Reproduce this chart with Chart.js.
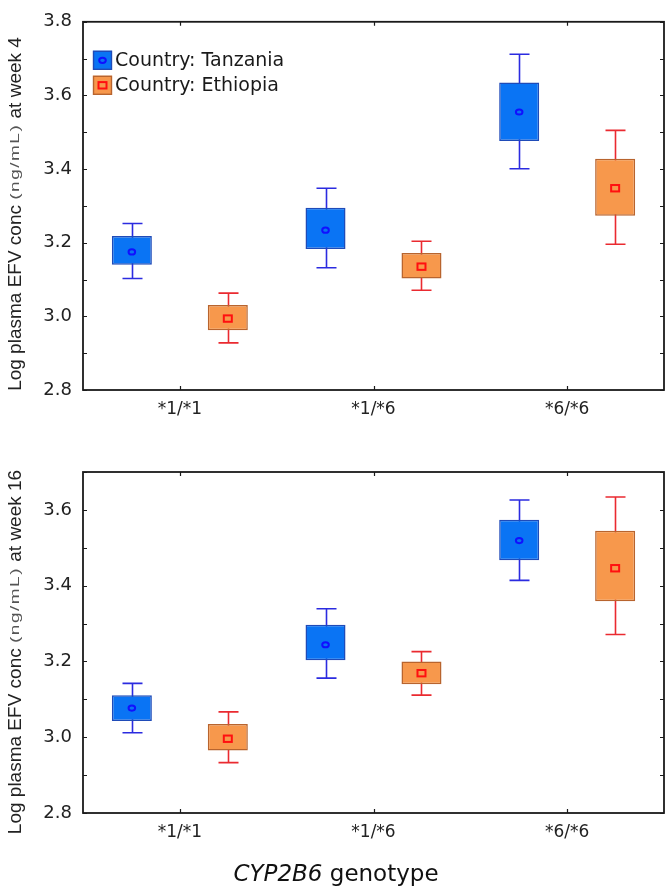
<!DOCTYPE html>
<html><head><meta charset="utf-8">
<script src="https://cdn.jsdelivr.net/npm/chart.js@4.4.1/dist/chart.umd.min.js"></script>
<style>
html,body{margin:0;padding:0;background:#fff;}
#wrap{position:relative;width:672px;height:893px;overflow:hidden;background:#fff;}
.panel{position:absolute;left:0;width:672px;}
.ytitle{position:absolute;white-space:nowrap;font-family:"Liberation Sans",Arial,sans-serif;font-size:19px;color:#222;transform:translate(-50%,-50%) rotate(-90deg);}
.unit{display:inline-block;color:#555;letter-spacing:1.5px;transform:scaleY(0.7);}
.xtitle{position:absolute;left:0;width:672px;text-align:center;top:860px;font-family:"DejaVu Sans",sans-serif;font-size:23px;color:#111;white-space:nowrap;}
</style></head>
<body><div id="wrap">
<div class="panel" style="top:0;height:446px"><canvas id="c1" width="672" height="446"></canvas></div>
<div class="panel" style="top:446px;height:447px"><canvas id="c2" width="672" height="447"></canvas></div>
<div class="ytitle" style="left:15px;top:214px">Log plasma EFV conc <span class="unit">(ng/mL)</span> at week 4</div>
<div class="ytitle" style="left:15px;top:652px">Log plasma EFV conc <span class="unit">(ng/mL)</span> at week 16</div>
<div class="xtitle"><i>CYP2B6</i> genotype</div>
</div>
<script>
// ---- data ----
const categories = ['*1/*1', '*1/*6', '*6/*6'];
const seriesNames = ['Country: Tanzania', 'Country: Ethiopia'];

// Week 4
const w4TzLow  = [3.103, 3.132, 3.401];
const w4TzQ1   = [3.140, 3.183, 3.476];
const w4TzMean = [3.175, 3.234, 3.555];
const w4TzQ3   = [3.218, 3.295, 3.635];
const w4TzHigh = [3.252, 3.348, 3.712];

const w4EtLow  = [2.928, 3.071, 3.196];
const w4EtQ1   = [2.962, 3.103, 3.273];
const w4EtMean = [2.994, 3.135, 3.348];
const w4EtQ3   = [3.031, 3.172, 3.428];
const w4EtHigh = [3.063, 3.204, 3.505];

// Week 16
const w16TzLow  = [3.012, 3.156, 3.414];
const w16TzQ1   = [3.043, 3.203, 3.467];
const w16TzMean = [3.077, 3.244, 3.519];
const w16TzQ3   = [3.111, 3.297, 3.574];
const w16TzHigh = [3.142, 3.339, 3.626];

const w16EtLow  = [2.933, 3.111, 3.271];
const w16EtQ1   = [2.965, 3.140, 3.359];
const w16EtMean = [2.996, 3.169, 3.446];
const w16EtQ3   = [3.035, 3.200, 3.545];
const w16EtHigh = [3.067, 3.226, 3.634];

const w4Axis  = {min: 2.8, max: 3.8};
const w16Axis = {min: 2.8, max: 3.7};

// ---- styles ----
const TZ = {fill:'#0a74f4', border:'#1f4bb8', whisker:'#2b2be0', marker:'#1010ff', shape:'circle'};
const ET = {fill:'#f7984c', border:'#b8642e', whisker:'#ea2a30', marker:'#ff1010', shape:'square'};
const TICK_FONT = {family:'DejaVu Sans', size:17};

function drawMarker(ctx, x, y, st){
  ctx.save();
  ctx.strokeStyle = st.marker; ctx.lineWidth = 2;
  if (st.shape === 'circle'){
    ctx.beginPath(); ctx.ellipse(x, y, 3.3, 2.6, 0, 0, Math.PI*2); ctx.stroke();
  } else {
    ctx.strokeRect(x-4, y-3.2, 8, 6.4);
  }
  ctx.restore();
}

const extras = {
  id:'extras',
  beforeDatasetsDraw(chart){
    const ctx = chart.ctx, ys = chart.scales.y;
    chart.data.datasets.forEach((ds, i) => {
      const meta = chart.getDatasetMeta(i);
      meta.data.forEach((el, j) => {
        const x = Math.round(el.x) + 0.5;
        const yl = ys.getPixelForValue(ds.low[j]);
        const yh = ys.getPixelForValue(ds.high[j]);
        ctx.save();
        ctx.strokeStyle = ds.st.whisker; ctx.lineWidth = 1.6;
        ctx.beginPath();
        ctx.moveTo(x, yh); ctx.lineTo(x, yl);
        ctx.moveTo(x-10, yh); ctx.lineTo(x+10, yh);
        ctx.moveTo(x-10, yl); ctx.lineTo(x+10, yl);
        ctx.stroke();
        ctx.restore();
      });
    });
  },
  afterDatasetsDraw(chart){
    const ctx = chart.ctx, ys = chart.scales.y;
    chart.data.datasets.forEach((ds, i) => {
      const meta = chart.getDatasetMeta(i);
      meta.data.forEach((el, j) => {
        drawMarker(ctx, el.x, ys.getPixelForValue(ds.mean[j]), ds.st);
      });
    });
  },
  afterDraw(chart, args, opts){
    const ctx = chart.ctx, a = chart.chartArea, xs = chart.scales.x, ys = chart.scales.y;
    ctx.save();
    ctx.strokeStyle = '#1a1a1a'; ctx.lineWidth = 1.8;
    ctx.strokeRect(a.left, a.top, a.right - a.left, a.bottom - a.top);
    ctx.lineWidth = 1.2;
    ctx.beginPath();
    ys.ticks.forEach(t => {
      const py = Math.round(ys.getPixelForValue(t.value)) + 0.5;
      ctx.moveTo(a.left, py); ctx.lineTo(a.left + 4, py);
      ctx.moveTo(a.right, py); ctx.lineTo(a.right - 4, py);
    });
    categories.forEach((c, i) => {
      const px = Math.round(xs.getPixelForValue(i)) + 0.5;
      ctx.moveTo(px, a.bottom); ctx.lineTo(px, a.bottom - 4);
      ctx.moveTo(px, a.top); ctx.lineTo(px, a.top + 4);
    });
    ctx.stroke();
    ctx.restore();
    if (opts && opts.legend){
      const items = chart.data.datasets;
      ctx.save();
      items.forEach((ds, k) => {
        const bx = a.left + 10, by = a.top + 29 + k * 25, s = 19;
        ctx.fillStyle = ds.st.fill; ctx.fillRect(bx, by, s, s);
        ctx.strokeStyle = ds.st.border; ctx.lineWidth = 1.4; ctx.strokeRect(bx + 0.5, by + 0.5, s - 1, s - 1);
        drawMarker(ctx, bx + s/2, by + s/2, ds.st);
        ctx.fillStyle = '#1a1a1a';
        ctx.font = '19px "DejaVu Sans"';
        ctx.textBaseline = 'middle'; ctx.textAlign = 'left';
        ctx.fillText(ds.label, bx + s + 3, by + s/2 + 1);
      });
      ctx.restore();
    }
  }
};

function makeChart(id, d){
  const mk = (label, st, q1, q3, low, high, mean) => ({
    label, st, low, high, mean,
    data: q1.map((v, i) => [v, q3[i]]),
    backgroundColor: st.fill, borderColor: st.border, borderWidth: 1.5, borderSkipped: false,
    categoryPercentage: 0.991, barPercentage: 0.417
  });
  return new Chart(document.getElementById(id), {
    type: 'bar',
    data: {
      labels: categories,
      datasets: [
        mk(seriesNames[0], TZ, d.tz[1], d.tz[3], d.tz[0], d.tz[4], d.tz[2]),
        mk(seriesNames[1], ET, d.et[1], d.et[3], d.et[0], d.et[4], d.et[2])
      ]
    },
    options: {
      responsive: false, animation: false, devicePixelRatio: 1,
      layout: {padding: {top: d.padTop, right: 8, left: 0, bottom: 0}},
      plugins: {legend: {display: false}, tooltip: {enabled: false}, extras: {legend: d.legend}},
      scales: {
        x: {
          grid: {display: false, drawTicks: false}, border: {display: false},
          ticks: {padding: 9, font: TICK_FONT, color: '#222'},
          afterFit: s => { s.height = d.xh; }
        },
        y: {
          min: d.axis.min, max: d.axis.max,
          grid: {display: false, drawTicks: false}, border: {display: false},
          ticks: {stepSize: 0.1, autoSkip: false, padding: 11, font: {family:'DejaVu Sans', size:18}, color: '#222',
            callback: v => (Math.round(v * 10) % 2 === 0) ? Number(v).toFixed(1) : ''},
          afterFit: s => { s.width = 83; }
        }
      }
    },
    plugins: [extras]
  });
}

makeChart('c1', {
  tz: [w4TzLow, w4TzQ1, w4TzMean, w4TzQ3, w4TzHigh],
  et: [w4EtLow, w4EtQ1, w4EtMean, w4EtQ3, w4EtHigh],
  axis: w4Axis, padTop: 14, xh: 56, legend: true
});
makeChart('c2', {
  tz: [w16TzLow, w16TzQ1, w16TzMean, w16TzQ3, w16TzHigh],
  et: [w16EtLow, w16EtQ1, w16EtMean, w16EtQ3, w16EtHigh],
  axis: w16Axis, padTop: 26, xh: 80, legend: false
});
</script>
</body></html>
